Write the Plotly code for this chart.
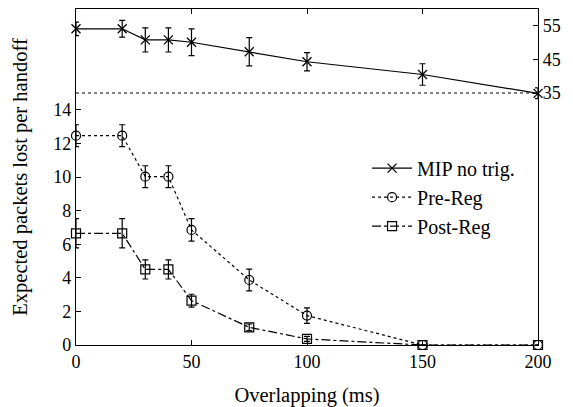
import plotly.graph_objects as go

overlap = [0, 20, 30, 40, 50, 75, 100, 150, 200]

mip = [54.1, 54.1, 50.8, 50.8, 50.1, 47.3, 44.3, 40.5, 34.9]
mip_err = [2.0, 2.5, 3.6, 3.6, 4.0, 4.2, 2.7, 3.2, 1.6]

pre = [12.46, 12.46, 10.02, 10.02, 6.85, 3.87, 1.75, 0.0, 0.0]
pre_err = [0.65, 0.65, 0.65, 0.65, 0.67, 0.65, 0.46, 0.0, 0.0]

post = [6.65, 6.65, 4.5, 4.5, 2.64, 1.05, 0.36, 0.0, 0.0]
post_err = [0.87, 0.87, 0.57, 0.57, 0.38, 0.2, 0.15, 0.0, 0.0]

x_ticks = [0, 50, 100, 150, 200]
left_ticks = [0, 2, 4, 6, 8, 10, 12, 14]
right_ticks = [35, 45, 55]
break_level = 15

FONT = "Liberation Serif, Times New Roman, serif"

fig = go.Figure()

def err(vals):
    return dict(type="data", array=vals, visible=True, color="black",
                thickness=1.2, width=3)

fig.add_trace(go.Scatter(
    x=overlap, y=mip, yaxis="y2", name="MIP no trig.",
    mode="lines+markers",
    line=dict(color="black", width=1.2, dash="solid"),
    marker=dict(symbol="x-thin-open", size=9, color="black",
                line=dict(color="black", width=1.3)),
    error_y=err(mip_err), cliponaxis=False))

fig.add_trace(go.Scatter(
    x=overlap, y=pre, name="Pre-Reg",
    mode="lines+markers",
    line=dict(color="black", width=1.2, dash="dot"),
    marker=dict(symbol="circle-open", size=9, color="black",
                line=dict(color="black", width=1.2)),
    error_y=err(pre_err), cliponaxis=False))

fig.add_trace(go.Scatter(
    x=overlap, y=post, name="Post-Reg",
    mode="lines+markers",
    line=dict(color="black", width=1.2, dash="dashdot"),
    marker=dict(symbol="square-open", size=9, color="black",
                line=dict(color="black", width=1.2)),
    error_y=err(post_err), cliponaxis=False))

fig.add_shape(type="line", xref="paper", x0=0, x1=1, yref="y",
              y0=break_level, y1=break_level,
              line=dict(color="black", width=1, dash="dot"))

fig.update_layout(
    width=573, height=407,
    margin=dict(l=76, r=35, t=9, b=62, autoexpand=False),
    paper_bgcolor="white", plot_bgcolor="white",
    font=dict(family=FONT, size=18, color="black"),
    xaxis=dict(range=[0, 200], tickvals=x_ticks, ticks="inside",
               ticklen=5, tickcolor="black", showline=True, linecolor="black",
               linewidth=1.2, mirror="ticks", showgrid=False, zeroline=False,
               automargin=False,
               title=dict(text="Overlapping (ms)", standoff=20,
                          font=dict(size=20.5)),
               tickfont=dict(size=18)),
    yaxis=dict(range=[0, 20], tickvals=left_ticks, ticks="inside",
               ticklen=5, tickcolor="black", showline=True, linecolor="black",
               linewidth=1.2, showgrid=False, zeroline=False,
               automargin=False,
               title=dict(text="Expected packets lost per handoff",
                          standoff=20, font=dict(size=20.5)),
               tickfont=dict(size=18)),
    yaxis2=dict(range=[-40, 60], tickvals=right_ticks, ticks="inside",
                ticklen=5, tickcolor="black", overlaying="y", side="right",
                showline=True, linecolor="black", linewidth=1.2,
                automargin=False,
                showgrid=False, zeroline=False, tickfont=dict(size=18)),
    legend=dict(x=0.63, y=0.44, xanchor="left", yanchor="middle",
                bgcolor="rgba(0,0,0,0)", font=dict(size=20),
                tracegroupgap=0, itemwidth=40),
    showlegend=True,
)

fig.write_html("out.html", config={"displayModeBar": False},
               post_script="document.body.style.margin='0';document.body.style.padding='0';")
